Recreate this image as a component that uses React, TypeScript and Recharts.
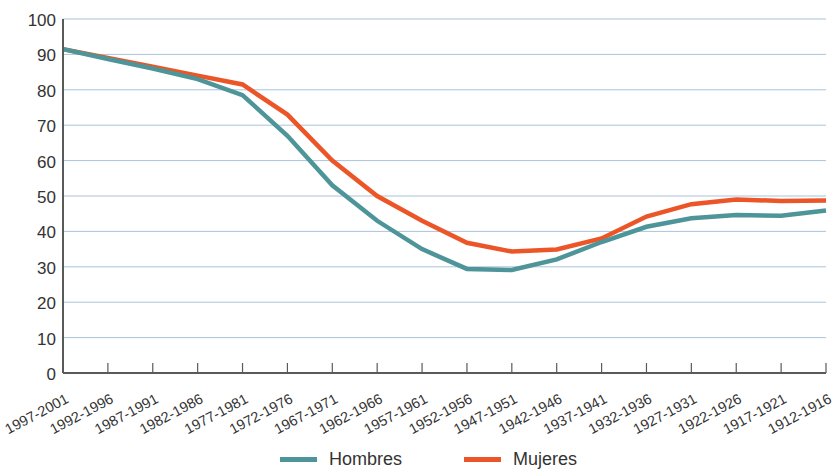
import React from "react";
import { LineChart, Line, XAxis, YAxis, CartesianGrid, Legend } from "recharts";

const cohorts = [
  "1997-2001", "1992-1996", "1987-1991", "1982-1986", "1977-1981", "1972-1976",
  "1967-1971", "1962-1966", "1957-1961", "1952-1956", "1947-1951", "1942-1946",
  "1937-1941", "1932-1936", "1927-1931", "1922-1926", "1917-1921", "1912-1916",
];
const hombres = [91.5, 88.7, 86, 83, 78.5, 67, 53, 43, 35, 29.4, 29.1, 32.1, 37, 41.3, 43.7, 44.6, 44.4, 45.9];
const mujeres = [91.5, 89, 86.5, 84, 81.5, 73, 60, 50, 43, 36.8, 34.3, 34.9, 38, 44.2, 47.7, 49, 48.6, 48.7];
const yTicks = [0, 10, 20, 30, 40, 50, 60, 70, 80, 90, 100];

const series = [
  { key: "hombres", label: "Hombres", color: "#4e9599" },
  { key: "mujeres", label: "Mujeres", color: "#eb5527" },
];

const data = cohorts.map((c, i) => ({ cohort: c, hombres: hombres[i], mujeres: mujeres[i] }));

const FONT = "'Liberation Sans', Arial, sans-serif";
const TEXT = "#333";
const AXIS = "#5a5a5a";

function XTick({ x, y, payload }: any) {
  const tx = x + 6.5;
  const ty = y + 29;
  return (
    <g>
      <line x1={x} x2={x} y1={y - 10} y2={y} stroke={AXIS} strokeWidth={1.2} />
      <text
        x={tx}
        y={ty}
        transform={`rotate(-28, ${tx}, ${ty})`}
        textAnchor="end"
        fontSize={14.5}
        fontFamily={FONT}
        fill={TEXT}
      >
        {payload.value}
      </text>
    </g>
  );
}

function LegendContent() {
  return (
    <div
      style={{
        height: 38,
        boxSizing: "border-box",
        paddingTop: 14,
        paddingLeft: 280,
        display: "flex",
        alignItems: "center",
      }}
    >
      {series.map((s, i) => (
        <div key={s.key} style={{ display: "flex", alignItems: "center", marginRight: i === 0 ? 62 : 0 }}>
          <div style={{ width: 37, height: 5, background: s.color, marginRight: 12 }} />
          <span style={{ fontFamily: FONT, fontSize: 18, color: TEXT, lineHeight: "20px" }}>{s.label}</span>
        </div>
      ))}
    </div>
  );
}

export default function App() {
  return (
    <div style={{ position: "absolute", left: 0, top: 0, width: 833, height: 471, background: "#fff" }}>
      <LineChart width={833} height={471} data={data} margin={{ top: 19, right: 7, left: 0, bottom: 0 }}>
        <CartesianGrid vertical={false} stroke="#a9c3db" strokeWidth={1} />
        <XAxis
          dataKey="cohort"
          interval={0}
          height={60}
          tickLine={false}
          tickSize={0}
          tickMargin={0}
          tick={<XTick />}
          axisLine={{ stroke: AXIS, strokeWidth: 2 }}
        />
        <YAxis
          domain={[0, 100]}
          ticks={yTicks}
          width={63}
          tickLine={false}
          tickSize={0}
          tickMargin={7}
          axisLine={{ stroke: AXIS, strokeWidth: 2 }}
          tick={{ fontSize: 17, fontFamily: FONT, fill: TEXT, dy: 1 }}
        />
        <Legend verticalAlign="bottom" content={<LegendContent />} />
        <Line type="linear" dataKey="mujeres" stroke={series[1].color} strokeWidth={4.5} dot={false} isAnimationActive={false} />
        <Line type="linear" dataKey="hombres" stroke={series[0].color} strokeWidth={4.5} dot={false} isAnimationActive={false} />
      </LineChart>
    </div>
  );
}
